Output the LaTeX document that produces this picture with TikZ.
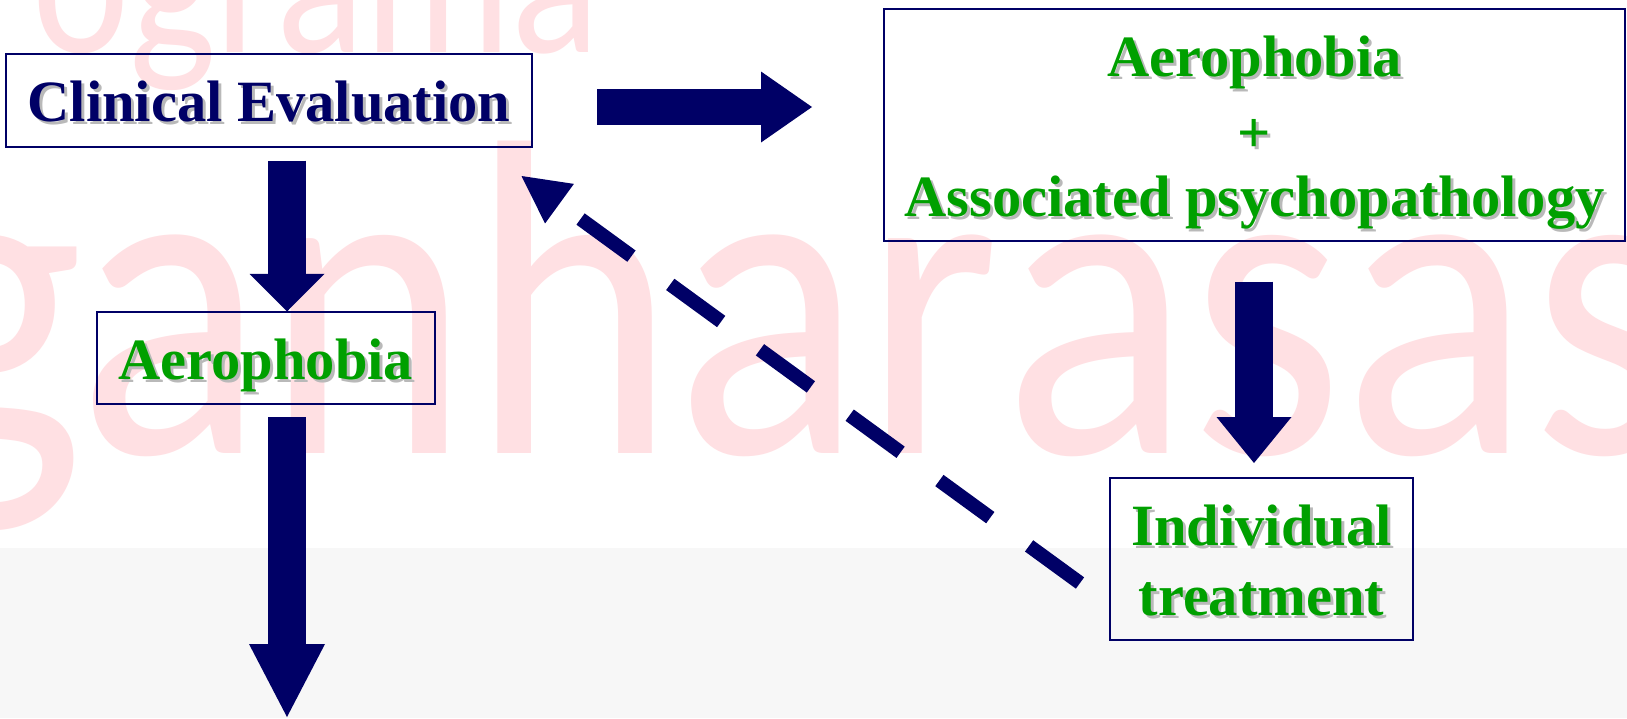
\documentclass[tikz,border=0pt]{standalone}
\usepackage{fontspec}
\usepackage{graphicx}
\setmainfont{Liberation Serif}
\newfontfamily\wmfont{Carlito}
\usetikzlibrary{calc}

\definecolor{navy}{RGB}{0,0,102}
\definecolor{leafgreen}{RGB}{0,160,0}
\definecolor{shadowgray}{RGB}{185,185,185}
\definecolor{wmpink}{RGB}{255,224,227}
\definecolor{bandgray}{RGB}{247,247,247}

% text with a soft drop shadow
\newcommand\shd[1]{\rlap{\kern3pt\raisebox{-3pt}{\color{shadowgray}#1}}#1}
% centred lines, the box's baseline being that of the first line
\newcommand\stacklines[1]{\vtop{\halign{\hfil##\hfil\cr#1\crcr}}}
% thick block arrow: name, start, tip, shaft width, head length, head half width
\newcommand\blockarrow[6]{%
  \coordinate (#1-base) at ($(#3)!#5!(#2)$);
  \coordinate (#1-mid) at ($(#3)!0.7*#5!(#2)$);
  \draw[navy, line width=#4] (#2) -- (#1-mid);
  \fill[navy] (#3) -- ($(#1-base)!#6!90:(#3)$) -- ($(#1-base)!#6!-90:(#3)$) -- cycle;}

\tikzset{
  box/.style={draw=navy, line width=2pt, inner sep=0pt, outer sep=0pt,
    font=\fontsize{58.5}{70}\selectfont\bfseries, text height=42pt, text depth=0pt},
  greenbox/.style={box, text=leafgreen},
  dashline/.style={draw=navy, line width=14pt, dash pattern=on 63pt off 48pt},
  watermark/.style={text=wmpink, inner sep=0pt, outer sep=0pt, anchor=base west},
}

\begin{document}
\begin{tikzpicture}[x=1pt, y=-1pt]
  \useasboundingbox (0,0) rectangle (1627,718);
  \clip (0,0) rectangle (1627,718);

  % background and lower band
  \fill[white] (0,0) rectangle (1627,718);
  \fill[bandgray] (0,548) rectangle (1627,718);

  % watermark lettering
  \node[watermark] (wm1) at (32,52)
    {\wmfont\fontsize{222}{222}\selectfont\scalebox{0.83}[1]{ograma}};
  \node[watermark] (wm2) at (-100,453)
    {\wmfont\fontsize{450}{450}\selectfont\scalebox{0.87}[1]{ganhar}};
  \node[watermark] (wm3) at (1003,453)
    {\wmfont\fontsize{450}{450}\selectfont\scalebox{0.87}[1]{asas}};

  % boxes
  \node[box, text=navy, minimum width=526pt, minimum height=93pt, text height=41pt]
    (clin) at (269,100.5) {\shd{Clinical Evaluation}};
  \node[greenbox, minimum width=337.5pt, minimum height=92.5pt, text height=43pt]
    (aero) at (265.75,357.75) {\shd{Aerophobia}};
  \node[greenbox, minimum width=741pt, minimum height=232pt, text depth=140pt]
    (big) at (1254.5,125)
    {\stacklines{\shd{Aerophobia}\cr\raisebox{-6pt}{\shd{+}}\cr\shd{Associated psychopathology}}};
  \node[greenbox, minimum width=303pt, minimum height=162pt, text depth=70pt]
    (indiv) at (1261.5,559)
    {\stacklines{\shd{Individual}\cr\shd{treatment}}};

  % guide positions for the arrows
  \coordinate (colL) at (287,0);
  \coordinate (colR) at (1254,0);
  \coordinate (rowT) at (0,107);
  \coordinate (exit) at (287,717);

  % block arrows
  \blockarrow{a1}{$(clin.south -| colL)+(0,13.7)$}{aero.north -| colL}{38pt}{37.7pt}{37.5pt}
  \blockarrow{a2}{$(aero.south -| colL)+(0,13)$}{exit}{38pt}{73pt}{38pt}
  \blockarrow{a3}{$(big.south -| colR)+(0,40.7)$}{$(indiv.north -| colR)+(0,-15)$}{38pt}{46pt}{37.5pt}
  \blockarrow{a4}{$(clin.east |- rowT)+(65,0)$}{$(big.west |- rowT)+(-72,0)$}{36pt}{51pt}{35.5pt}

  % dashed return arrow
  \coordinate (dstart) at ($(indiv.west)+(-30,24)$);
  \coordinate (dtip) at ($(clin.south east)+(-10.5,29)$);
  \coordinate (dbase) at ($(dtip)!47pt!(dstart)$);
  \draw[dashline] (dstart) -- (dbase);
  \fill[navy] (dtip) -- ($(dbase)!24.5pt!90:(dtip)$) -- ($(dbase)!24.5pt!-90:(dtip)$) -- cycle;
\end{tikzpicture}
\end{document}
